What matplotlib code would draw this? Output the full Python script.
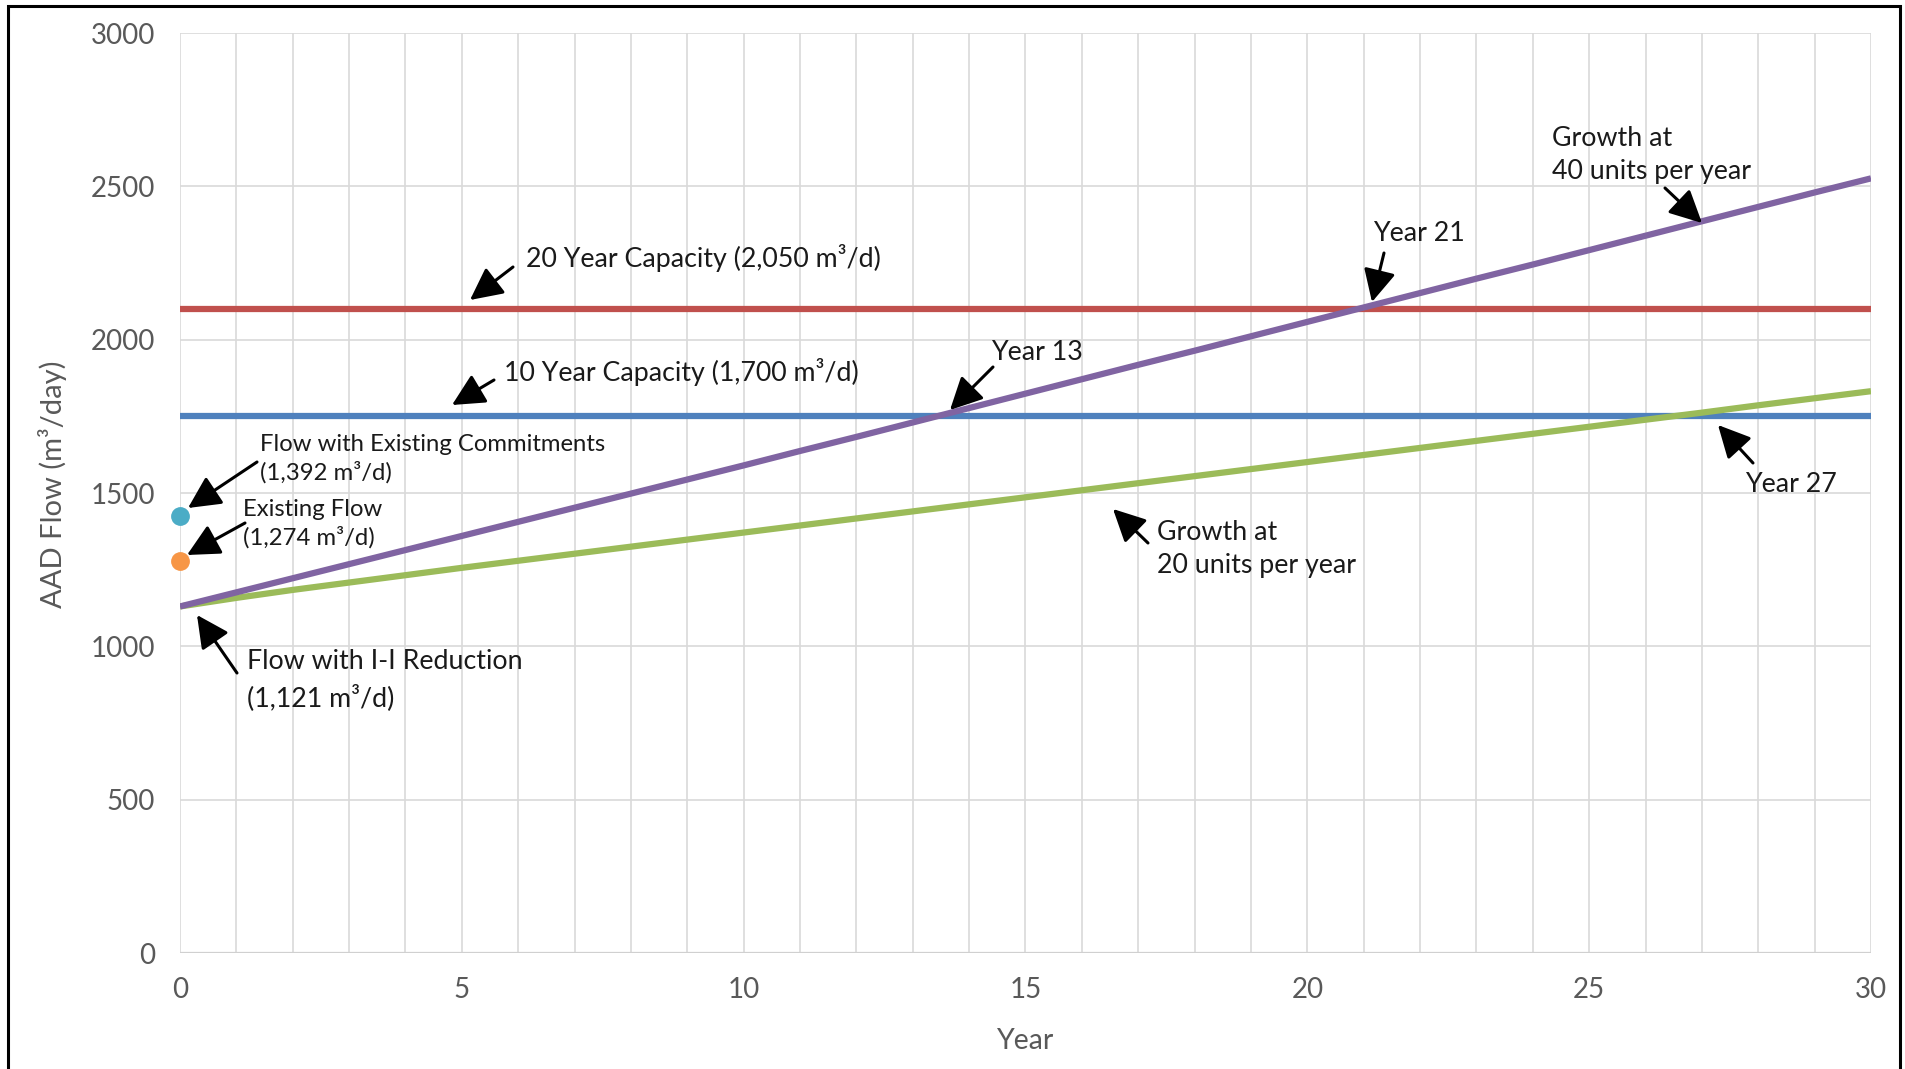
import matplotlib
matplotlib.use("Agg")
import matplotlib.pyplot as plt
from matplotlib.patches import Rectangle

plt.rcParams['font.family'] = ['Lato', 'DejaVu Sans']

# ---------------- data ----------------
years = list(range(0, 31))
growth_40 = [1130, 1176, 1222, 1268, 1314, 1360, 1406, 1452, 1498, 1544, 1590,
             1637, 1683, 1730, 1777, 1824, 1871, 1918, 1964, 2011, 2058,
             2105, 2152, 2199, 2245, 2292, 2339, 2386, 2433, 2480, 2526]
growth_20 = [1130, 1158, 1184, 1208, 1232, 1256, 1279, 1302, 1325, 1348, 1371,
             1394, 1417, 1440, 1463, 1486, 1509, 1532, 1555, 1578, 1601,
             1624, 1647, 1670, 1693, 1716, 1739, 1762, 1786, 1809, 1832]
cap_10yr = 1750
cap_20yr = 2100
existing_commit = 1425
existing_flow = 1278
x_ticks = [0, 5, 10, 15, 20, 25, 30]
y_ticks = [0, 500, 1000, 1500, 2000, 2500, 3000]

# ---------------- figure ----------------
W, H = 1906, 1069
fig = plt.figure(figsize=(W / 100, H / 100), dpi=100)
L, R, T, B = 180, 1871, 33, 953
ax = fig.add_axes([L / W, 1 - B / H, (R - L) / W, (B - T) / H])

# border around whole figure
fig.patches.append(Rectangle((8 / W, -0.02), (1900 - 8) / W, 1.02 - 6 / H,
                             transform=fig.transFigure, fill=False,
                             edgecolor='black', lw=2.2, zorder=10))

ax.set_xlim(0, 30)
ax.set_ylim(0, 3000)
ax.set_xticks(x_ticks)
ax.set_xticks(years, minor=True)
ax.set_yticks(y_ticks)
ax.grid(True, which='both', axis='x', color='#D9D9D9', lw=1.2)
ax.grid(True, which='major', axis='y', color='#D9D9D9', lw=1.2)
ax.set_axisbelow(True)
for s in ax.spines.values():
    s.set_visible(False)
ax.axhline(0, color='#D0D0D0', lw=1.6, zorder=1)
ax.tick_params(axis='both', which='both', length=0, labelsize=20, labelcolor='#595959')
ax.tick_params(axis='x', pad=17)
ax.tick_params(axis='y', pad=18)

ax.set_xlabel('Year', fontsize=20.5, color='#595959', labelpad=18)
ax.set_ylabel('AAD Flow (m³/day)', fontsize=21, color='#595959')
ax.yaxis.set_label_coords(-0.067, 0.51)

lw = 4.5
ax.plot([0, 30], [cap_20yr, cap_20yr], color='#C0504D', lw=lw, solid_capstyle='butt', zorder=3)
ax.plot([0, 30], [cap_10yr, cap_10yr], color='#4F81BD', lw=lw, solid_capstyle='butt', zorder=3)
ax.plot(years, growth_20, color='#9BBB59', lw=lw, solid_capstyle='butt', zorder=4)
ax.plot(years, growth_40, color='#8064A2', lw=lw, solid_capstyle='butt', zorder=5)
ax.plot([0], [existing_commit], 'o', color='#4BACC6', ms=12.5, clip_on=False, zorder=6)
ax.plot([0], [existing_flow], 'o', color='#F79646', ms=12.5, clip_on=False, zorder=6)


def d(px, py):
    return ((px - L) * 30 / (R - L), (B - py) * 3000 / (B - T))


def arrow(tail, head):
    ax.annotate('', xy=d(*head), xytext=d(*tail), annotation_clip=False,
                arrowprops=dict(arrowstyle='-|>,head_length=0.9,head_width=0.45',
                                color='black', lw=2.2, shrinkA=0, shrinkB=0,
                                mutation_scale=22), zorder=8)


BIG = 19.3
SMALL = 17.2


def txt(px, py, s, size=BIG, ls=1.2):
    x, y = d(px, py)
    ax.text(x, y, s, fontsize=size, color='#1a1a1a', ha='left', va='center',
            linespacing=ls, zorder=9, clip_on=False)


txt(526, 258, '20 Year Capacity (2,050 m³/d)')
arrow((513, 267), (470, 300))
txt(504, 372, '10 Year Capacity (1,700 m³/d)')
arrow((494, 380), (452, 405))
txt(260, 459, 'Flow with Existing Commitments\n(1,392 m³/d)', SMALL, 1.36)
arrow((257, 462), (188, 508))
txt(243, 524, 'Existing Flow\n(1,274 m³/d)', SMALL, 1.36)
arrow((245, 523), (187, 555))
txt(247, 680, 'Flow with I-I Reduction\n(1,121 m³/d)', BIG, 1.42)
arrow((237, 673), (197, 615))
txt(991, 352, 'Year 13')
arrow((993, 367), (950, 410))
txt(1373, 233, 'Year 21')
arrow((1384, 253), (1372, 302))
txt(1552, 155, 'Growth at\n40 units per year', BIG, 1.45)
arrow((1665, 188), (1702, 223))
txt(1745, 484, 'Year 27')
arrow((1753, 463), (1718, 425))
txt(1157, 549, 'Growth at\n20 units per year', BIG, 1.38)
arrow((1148, 543), (1113, 509))

fig.savefig('out.png', dpi=100)
